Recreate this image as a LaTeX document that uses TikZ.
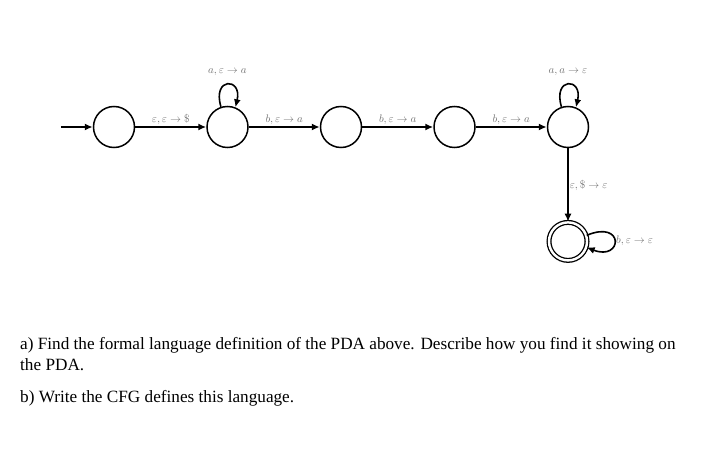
\documentclass[tikz,border=0pt]{standalone}
\usepackage{amsmath,amssymb}
\usepackage{fontspec}
\setmainfont{Liberation Serif}
\usepackage{xcolor}
\usepackage{tikz}
\usetikzlibrary{arrows.meta,positioning}

\begin{document}
\begin{tikzpicture}[>={Latex[length=8pt,width=7pt]}, x=1pt, y=-1pt,
    state/.style={circle,draw,line width=1.5pt,minimum size=41pt,inner sep=0pt},
    accept/.style={state,double,double distance=2.4pt,line width=1.3pt,minimum size=38pt},
    trans/.style={->,line width=1.6pt},
    lbl/.style={text=black!55,font=\fontsize{10.5}{12}\selectfont,inner sep=2pt},
    node distance=71pt]
  \useasboundingbox (0,0) rectangle (714,470);
  \node[state] (q0) at (114,127) {};
  \node[state,right=of q0] (q1) {};
  \node[state,right=of q1] (q2) {};
  \node[state,right=of q2] (q3) {};
  \node[state,right=of q3] (q4) {};
  \node[accept,below=73.5pt of q4] (q5) {};
  \coordinate[left=32pt of q0.west] (start);
  \draw[trans] (start) -- (q0);
  \draw[trans] (q0) -- node[lbl,above] {$\varepsilon,\varepsilon\rightarrow\$$} (q1);
  \draw[trans] (q1) -- node[lbl,above] {$b,\varepsilon\rightarrow a$} (q2);
  \draw[trans] (q2) -- node[lbl,above] {$b,\varepsilon\rightarrow a$} (q3);
  \draw[trans] (q3) -- node[lbl,above] {$b,\varepsilon\rightarrow a$} (q4);
  % self loops
  \draw[trans] (q1.108) .. controls +(-9,-30) and +(7,-30) .. node[lbl,above=6pt] {$a,\varepsilon\rightarrow a$} (q1.68);
  \draw[trans] (q4.108) .. controls +(-9,-30) and +(7,-30) .. node[lbl,above=6pt] {$a,a\rightarrow\varepsilon$} (q4.68);
  \draw[trans] (q4) -- node[lbl,right,inner sep=1pt] {$\varepsilon,\$\rightarrow\varepsilon$} (q5);
  \draw[trans] (q5.18) .. controls +(38,-16) and +(36,14) .. node[lbl,right,inner sep=1pt] {$b,\varepsilon\rightarrow\varepsilon$} (q5.-18);
  % question text
  \node[anchor=base west,align=left,inner sep=0pt,font=\fontsize{17.2}{21}\selectfont] (qa) at (20,370)
    {a) Find the formal language definition of the PDA above. Describe how you find it showing on\\the PDA.};
  \node[anchor=base west,inner sep=0pt,font=\fontsize{17.2}{21}\selectfont] (qb) at (20,402)
    {b) Write the CFG defines this language.};
\end{tikzpicture}
\end{document}
